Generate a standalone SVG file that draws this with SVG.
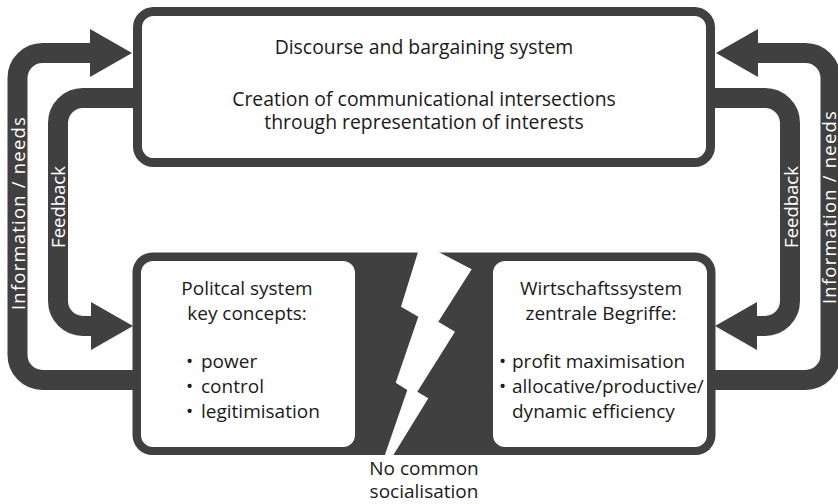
<svg xmlns="http://www.w3.org/2000/svg" width="838" height="504" viewBox="0 0 838 504">
  <style>
    .band { fill: none; stroke: #404040; stroke-width: 20; }
    .head { fill: #404040; }
    .txt { font-family: "Open Sans", "Noto Sans", sans-serif; font-size: 19px; fill: #1a1a1a; }
    .big { font-size: 19.4px; }
    .mid { text-anchor: middle; }
    .lbl { font-family: "Open Sans", "Noto Sans", sans-serif; font-size: 18.5px; fill: #ffffff; text-anchor: middle; }
    .wide { letter-spacing: 1.2px; }
  </style>

  <!-- feedback / information loops -->
  <g id="connectors">
    <path class="band" d="M133,380 H42.5 A25,25 0 0 1 17.5,355 V78 A25,25 0 0 1 42.5,53 H92"/>
    <polygon class="head" points="90,29 132,53 90,77"/>
    <path class="band" d="M133,98 H83 A25,25 0 0 0 58,123 V301 A25,25 0 0 0 83,326 H93"/>
    <polygon class="head" points="91,302 133,326 91,350"/>

    <path class="band" d="M715,380 H805.5 A25,25 0 0 0 830.5,355 V78 A25,25 0 0 0 805.5,53 H756"/>
    <polygon class="head" points="758,29 716,53 758,77"/>
    <path class="band" d="M715,98 H765 A25,25 0 0 1 790,123 V301 A25,25 0 0 1 765,326 H755"/>
    <polygon class="head" points="757,302 715,326 757,350"/>

    <text class="lbl wide" transform="translate(25,213) rotate(-90)">Information / needs</text>
    <text class="lbl" transform="translate(65,207) rotate(-90)">Feedback</text>
    <text class="lbl" transform="translate(798,207) rotate(-90)">Feedback</text>
    <text class="lbl wide" transform="translate(836,207) rotate(-90)">Information / needs</text>
  </g>

  <!-- upper box -->
  <g id="discourse">
    <rect x="137.5" y="11.5" width="573" height="151" rx="16" fill="#ffffff" stroke="#404040" stroke-width="9"/>
    <text class="txt big mid" x="424" y="54">Discourse and bargaining system</text>
    <text class="txt big mid" x="424" y="106">Creation of communicational intersections</text>
    <text class="txt big mid" x="424" y="129">through representation of interests</text>
  </g>

  <!-- lower frame split by the lightning bolt -->
  <g id="divide">
    <rect x="132.5" y="252.5" width="583" height="202.5" rx="20" fill="#404040"/>
    <polygon fill="#ffffff" points="418.3,251 436.7,251 471.7,269.3 438.3,321.7 455,331.7 417.3,391.7 428.3,398.3 392.8,456 384.5,456 407.3,390 395.7,382.7 418.3,316.7 401,306.7 418.3,251"/>
    <text class="txt mid" x="424" y="475">No common</text>
    <text class="txt mid" x="424" y="498">socialisation</text>
  </g>

  <g id="political">
    <rect x="141" y="261" width="214" height="186" rx="12" fill="#ffffff"/>
    <text class="txt mid" x="247" y="295">Politcal system</text>
    <text class="txt mid" x="247" y="320">key concepts:</text>
    <text class="txt" x="186" y="368">•</text>
    <text class="txt" x="201" y="368">power</text>
    <text class="txt" x="186" y="393">•</text>
    <text class="txt" x="201" y="393">control</text>
    <text class="txt" x="186" y="418">•</text>
    <text class="txt" x="201" y="418">legitimisation</text>
  </g>

  <g id="economic">
    <rect x="493" y="261" width="214" height="186" rx="12" fill="#ffffff"/>
    <text class="txt mid" x="601" y="295">Wirtschaftssystem</text>
    <text class="txt mid" x="601" y="320">zentrale Begriffe:</text>
    <text class="txt" x="499" y="368">•</text>
    <text class="txt" x="512" y="368">profit maximisation</text>
    <text class="txt" x="499" y="393">•</text>
    <text class="txt" x="512" y="393">allocative/productive/</text>
    <text class="txt" x="512" y="418">dynamic efficiency</text>
  </g>
</svg>
